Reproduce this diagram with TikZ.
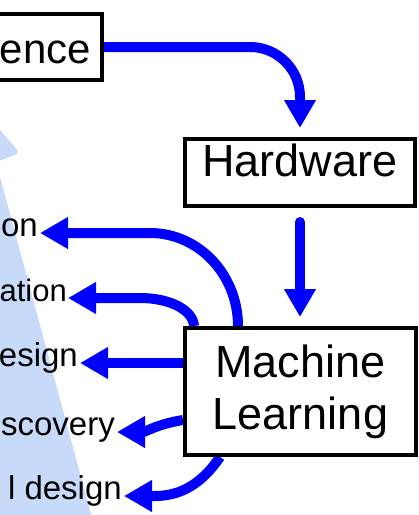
\documentclass[tikz,border=0pt]{standalone}
\usepackage{fontspec}
\setmainfont{Liberation Sans}
\usetikzlibrary{arrows.meta,calc}
\definecolor{flowblue}{RGB}{0,0,255}
\definecolor{paleblue}{RGB}{200,218,250}
\pgfdeclarelayer{back}
\pgfsetlayers{back,main}
\tikzset{
  box/.style={draw=black, line width=4pt, fill=white, inner sep=0pt,
    font=\fontsize{45}{52}\selectfont},
  lbl/.style={anchor=east, inner sep=0pt, text height=.8em, text depth=.2em,
    font=\fontsize{33}{39}\selectfont},
  flow/.style={draw=flowblue, line width=10pt,
    -{Triangle[width=30pt,length=28pt]}},
}
\begin{document}
\begin{tikzpicture}[x=1pt,y=-1pt]
\useasboundingbox (0,0) rectangle (419,515);
\clip (0,0) rectangle (419,515);

% wide pale arrow behind the labels
\begin{pgfonlayer}{back}
  \fill[paleblue, rounded corners=5pt]
    (-80,38) -- (20,153) -- (-4,162) -- (98,540) -- (-80,540) -- cycle;
\end{pgfonlayer}

% boxes
\node[box, anchor=east, minimum width=160pt, minimum height=66pt] (sci) at (104,47) {};
\node[anchor=base east, inner sep=0pt, font=\fontsize{42}{48}\selectfont]
      (scitext) at (91,63) {ence};
\node[box, minimum width=230pt, minimum height=67pt,
      text height=.72em, text depth=0pt] (hw) at (300,172.5) {Hardware};
\node[box, align=center, minimum width=231pt, minimum height=127pt]
      (ml) at (300.5,391.5) {Machine\\Learning};

% labels on the left
\node[lbl] (l1) at (38,233)  {on};
\node[lbl, font=\fontsize{31}{37}\selectfont] (l2) at (67,298) {ation};
\node[lbl] (l3) at (78,363)  {esign};
\node[lbl] (l4) at (115,432) {scovery};
\node[lbl] (l5) at (122,496) {l design};

% connectors
\begin{pgfonlayer}{back}
  \draw[flow, shorten >=9pt] (sci.east) -- (250,47)
    .. controls (277.6,47) and (300,69.4) .. (300,97) -- (hw.north);
  \draw[flow, line cap=round, shorten <=14pt, shorten >=9pt]
    (hw.south) -- (hw.south |- ml.north);
  \draw[flow, shorten >=2pt] ($(ml.north west)+(55,0)$)
    .. controls +(0,-51) and +(49,0) .. (150,233) -- (l1.east);
  \draw[flow, shorten >=1pt] ($(ml.north west)+(11,0)$)
    .. controls +(-1,-16) and +(30,0) .. (140,298) -- (l2.east);
  \draw[flow, shorten >=2pt] ($(ml.north west)+(0,37)$) -- (l3.east);
  \draw[flow, shorten >=2pt] ($(ml.north west)+(0,94)$)
    .. controls +(-25,4) and +(30,0) .. (l4.east);
  \draw[flow, shorten >=2pt] ($(ml.south west)+(37,0)$)
    .. controls +(-15,22) and +(30,0) .. (155,496) -- (l5.east);
\end{pgfonlayer}
\end{tikzpicture}
\end{document}
